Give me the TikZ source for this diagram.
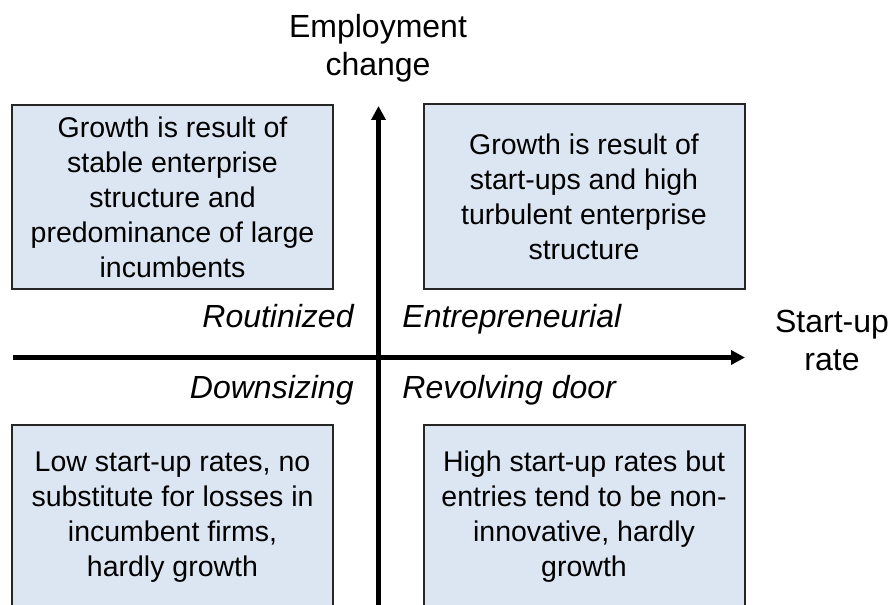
\documentclass[tikz,border=0pt]{standalone}
\usepackage{fontspec}
\setmainfont{Liberation Sans}
\usetikzlibrary{arrows.meta}
\definecolor{boxfill}{HTML}{DCE6F2}
\definecolor{boxline}{HTML}{262626}
\tikzset{
  quadbox/.style={draw=boxline, line width=1pt, fill=boxfill, minimum width=160.5pt,
    minimum height=92pt, inner sep=0pt, align=center,
    font=\fontsize{14.25}{17.5}\selectfont},
  axislabel/.style={align=center, font=\fontsize{16}{19}\selectfont},
  quadlabel/.style={inner sep=0pt, font=\fontsize{16}{19}\selectfont\itshape},
  axis/.style={line width=2.25pt, -{Triangle[length=7pt,width=7pt]}}
}
\begin{document}
\begin{tikzpicture}[x=0.5pt,y=-0.5pt]
      \useasboundingbox (0,0) rectangle (892,604);
      \clip (0,0) rectangle (892,604);
      \draw
        (172.5,197) node[quadbox] (rout){Growth is result of\\stable enterprise\\structure and\\predominance of large\\incumbents}
        (584,196.5) node[quadbox] (entr){Growth is result of\\start-ups and high\\turbulent enterprise\\structure}
        (172.5,517) node[quadbox] (down){Low start-up rates, no\\substitute for losses in\\incumbent firms,\\hardly growth}
        (584,517) node[quadbox] (revo){High start-up rates but\\entries tend to be non-\\innovative, hardly\\growth};
      \coordinate (xfrom) at (13,357.5);
      \coordinate (xto) at (745,357.5);
      \coordinate (yfrom) at (378.5,610);
      \coordinate (yto) at (378.5,106);
      \begin{scope}[axis]
        \draw (xfrom) to (xto);
        \draw (yfrom) to (yto);
      \end{scope}
      \draw
        (378,48.5) node[axislabel] (ylab){Employment\\change}
        (832,340.5) node[axislabel] (xlab){Start-up\\rate}
        (354,327) node[quadlabel, anchor=base east] (routlab){Routinized}
        (402,327) node[quadlabel, anchor=base west] (entrlab){Entrepreneurial}
        (354,398) node[quadlabel, anchor=base east] (downlab){Downsizing}
        (402,398) node[quadlabel, anchor=base west] (revolab){Revolving door};
    \end{tikzpicture}
\end{document}
